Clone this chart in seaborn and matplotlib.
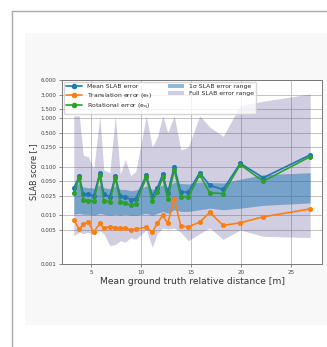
import matplotlib
matplotlib.use("Agg")
import matplotlib.pyplot as plt
from matplotlib.lines import Line2D
from matplotlib.patches import Rectangle, Patch
from matplotlib.ticker import NullLocator, FixedLocator, FixedFormatter
import seaborn as sns

# Mean ground-truth relative distance per bin [m]
distance = [3.25, 3.8, 4.2, 4.7, 5.25, 5.85, 6.25, 6.85, 7.4, 7.9, 8.4, 8.95, 9.45,
            10.5, 11.1, 11.6, 12.15, 12.65, 13.3, 13.95, 14.7, 15.85, 16.85, 18.2,
            19.9, 22.2, 26.9]

# Mean SLAB score per bin and its two components
mean_err = [0.036, 0.063, 0.027, 0.027, 0.025, 0.074, 0.027, 0.024, 0.063, 0.025,
            0.024, 0.021, 0.022, 0.066, 0.025, 0.036, 0.070, 0.029, 0.100, 0.030,
            0.030, 0.075, 0.041, 0.034, 0.117, 0.059, 0.174]
trans_err = [0.0080, 0.0052, 0.0065, 0.0072, 0.0045, 0.0068, 0.0055, 0.0058, 0.0056,
             0.0055, 0.0055, 0.0050, 0.0052, 0.0057, 0.0045, 0.0068, 0.0100, 0.0068,
             0.0220, 0.0060, 0.0058, 0.0072, 0.0115, 0.0062, 0.0070, 0.0093, 0.0135]
rot_err = [0.029, 0.058, 0.021, 0.020, 0.020, 0.068, 0.020, 0.019, 0.058, 0.019,
           0.018, 0.016, 0.017, 0.060, 0.020, 0.030, 0.060, 0.022, 0.085, 0.024,
           0.024, 0.068, 0.029, 0.028, 0.110, 0.050, 0.160]

# 1-sigma band of the SLAB score
sigma_lo = [0.0105, 0.011, 0.0105, 0.0105, 0.010, 0.011, 0.0105, 0.010, 0.0105, 0.010,
            0.0105, 0.010, 0.010, 0.011, 0.010, 0.011, 0.012, 0.011, 0.013, 0.012,
            0.012, 0.013, 0.014, 0.013, 0.014, 0.016, 0.018]
sigma_hi = [0.040, 0.045, 0.038, 0.037, 0.036, 0.042, 0.037, 0.035, 0.040, 0.034,
            0.034, 0.032, 0.033, 0.040, 0.034, 0.038, 0.042, 0.038, 0.048, 0.045,
            0.044, 0.048, 0.047, 0.046, 0.055, 0.068, 0.075]

# Min / max SLAB score per bin
full_lo = [0.0038, 0.0045, 0.0042, 0.0045, 0.0040, 0.0048, 0.0042, 0.0024, 0.0025,
           0.0030, 0.0028, 0.0035, 0.0032, 0.0050, 0.0022, 0.0042, 0.0055, 0.0052,
           0.0055, 0.0045, 0.0030, 0.0042, 0.0055, 0.0032, 0.0050, 0.0037, 0.0035]
full_hi = [1.10, 1.10, 0.17, 0.16, 0.09, 1.10, 0.085, 0.075, 1.10, 0.07, 0.14, 0.065,
           0.08, 1.10, 0.25, 0.40, 1.10, 0.50, 1.10, 0.22, 0.25, 1.10, 0.65, 0.42,
           1.80, 2.20, 3.10]

y_ticks = [0.001, 0.005, 0.010, 0.025, 0.050, 0.100, 0.250, 0.500, 1.000, 1.500,
           3.000, 6.000]
x_ticks = [5, 10, 15, 20, 25]

sns.set_style("ticks")
plt.rcParams["font.family"] = ["DejaVu Sans"]

W, H = 327, 347
fig = plt.figure(figsize=(W / 100, H / 100), dpi=100)
fig.patch.set_facecolor("white")

# page panel and frame lines
fig.add_artist(Rectangle((25 / W, 1 - 325 / H), (W - 25) / W, (325 - 33) / H,
                         transform=fig.transFigure, facecolor="#f8f8f8",
                         edgecolor="none", zorder=0))
fig.add_artist(Line2D([12 / W, 12 / W], [0, 1 - 11 / H], transform=fig.transFigure,
                      color="#a8a8a8", lw=1.0))
fig.add_artist(Line2D([12 / W, 1], [1 - 11 / H, 1 - 11 / H], transform=fig.transFigure,
                      color="#a8a8a8", lw=1.0))

ax = fig.add_axes([62 / W, 1 - 264 / H, 260 / W, 184 / H])
ax.set_facecolor("white")

full_color = "darkslateblue"
sigma_color = "tab:blue"
ax.fill_between(distance, full_lo, full_hi, color=full_color, alpha=0.25, lw=0, zorder=1)
ax.fill_between(distance, sigma_lo, sigma_hi, color=sigma_color, alpha=0.5, lw=0, zorder=2)

line_kw = dict(marker="o", markersize=3.0, linewidth=1.2, markeredgewidth=0.6)
sns.lineplot(x=distance, y=mean_err, color="C0", ax=ax, markeredgecolor="C0",
             zorder=3, **line_kw)
sns.lineplot(x=distance, y=trans_err, color="C1", ax=ax, markeredgecolor="C1",
             zorder=3, **line_kw)
sns.lineplot(x=distance, y=rot_err, color="C2", ax=ax, markeredgecolor="C2",
             zorder=4, **line_kw)

ax.set_yscale("log")
ax.set_ylim(0.001, 6.0)
ax.yaxis.set_major_locator(FixedLocator(y_ticks))
ax.yaxis.set_major_formatter(FixedFormatter([f"{v:.3f}" for v in y_ticks]))
ax.yaxis.set_minor_locator(NullLocator())
ax.set_xticks(x_ticks)
ax.margins(x=0.05)

ax.grid(True, color="#b8b8b8", lw=0.6)
ax.set_axisbelow(True)
for s in ax.spines.values():
    s.set_color("#777777")
    s.set_linewidth(0.7)
ax.tick_params(labelsize=4.1, labelcolor="#444444", color="#777777", length=2,
               width=0.6, pad=2)

ax.set_xlabel("Mean ground truth relative distance [m]", fontsize=6.6,
              color="#333333", labelpad=2)
ax.set_ylabel("SLAB score [-]", fontsize=5.8, color="#333333", labelpad=2)

handles = [
    Line2D([], [], color="C0", marker="o", markersize=3.0, lw=1.2),
    Line2D([], [], color="C1", marker="o", markersize=3.0, lw=1.2),
    Line2D([], [], color="C2", marker="o", markersize=3.0, lw=1.2),
    Patch(facecolor=sigma_color, alpha=0.5, lw=0),
    Patch(facecolor=full_color, alpha=0.25, lw=0),
]
labels = [
    "Mean SLAB error",
    "Translation error (e$_\\mathrm{t}$)",
    "Rotational error (e$_\\mathrm{q}$)",
    "1σ SLAB error range",
    "Full SLAB error range",
]
ax.legend(handles, labels, loc="upper left", ncol=2, fontsize=4.4, frameon=True,
          framealpha=0.8, edgecolor="#cccccc", handlelength=2.6, borderpad=0.4,
          labelspacing=0.25, columnspacing=2.6, borderaxespad=0.25)

fig.savefig("out.png", dpi=100)
